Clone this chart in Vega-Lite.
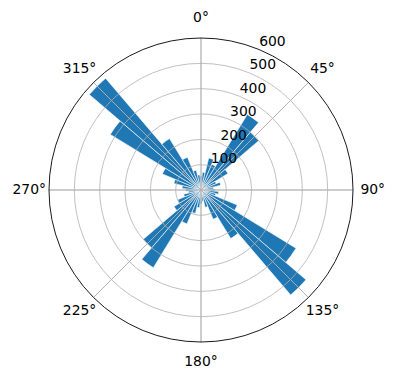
{
  "$schema": "https://vega.github.io/schema/vega-lite/v6.json",
  "width": 390,
  "height": 380,
  "autosize": {"type": "none"},
  "padding": {"left": 6, "top": 0, "right": 0, "bottom": 0},
  "background": "white",
  "config": {"view": {"stroke": null}},
  "datasets": {
    "bins": [
      {"start": -4.5, "end": 4.5, "count": 55},
      {"start": 4.5, "end": 13.5, "count": 70},
      {"start": 13.5, "end": 22.5, "count": 130},
      {"start": 22.5, "end": 31.5, "count": 110},
      {"start": 31.5, "end": 40.5, "count": 350},
      {"start": 40.5, "end": 49.5, "count": 300},
      {"start": 49.5, "end": 58.5, "count": 125},
      {"start": 58.5, "end": 67.5, "count": 65},
      {"start": 67.5, "end": 76.5, "count": 80},
      {"start": 76.5, "end": 85.5, "count": 50},
      {"start": 85.5, "end": 94.5, "count": 55},
      {"start": 94.5, "end": 103.5, "count": 70},
      {"start": 103.5, "end": 112.5, "count": 60},
      {"start": 112.5, "end": 121.5, "count": 155},
      {"start": 121.5, "end": 130.5, "count": 440},
      {"start": 130.5, "end": 139.5, "count": 545},
      {"start": 139.5, "end": 148.5, "count": 225},
      {"start": 148.5, "end": 157.5, "count": 125},
      {"start": 157.5, "end": 166.5, "count": 70},
      {"start": 166.5, "end": 175.5, "count": 45},
      {"start": 175.5, "end": 184.5, "count": 55},
      {"start": 184.5, "end": 193.5, "count": 70},
      {"start": 193.5, "end": 202.5, "count": 95},
      {"start": 202.5, "end": 211.5, "count": 145},
      {"start": 211.5, "end": 220.5, "count": 360},
      {"start": 220.5, "end": 229.5, "count": 300},
      {"start": 229.5, "end": 238.5, "count": 125},
      {"start": 238.5, "end": 247.5, "count": 100},
      {"start": 247.5, "end": 256.5, "count": 70},
      {"start": 256.5, "end": 265.5, "count": 50},
      {"start": 265.5, "end": 274.5, "count": 60},
      {"start": 274.5, "end": 283.5, "count": 75},
      {"start": 283.5, "end": 292.5, "count": 110},
      {"start": 292.5, "end": 301.5, "count": 165},
      {"start": 301.5, "end": 310.5, "count": 420},
      {"start": 310.5, "end": 319.5, "count": 580},
      {"start": 319.5, "end": 328.5, "count": 238},
      {"start": 328.5, "end": 337.5, "count": 140},
      {"start": 337.5, "end": 346.5, "count": 80},
      {"start": 346.5, "end": 355.5, "count": 60}
    ],
    "spokes": [
      {"a": 0, "label": "0°"},
      {"a": 45, "label": "45°"},
      {"a": 90, "label": "90°"},
      {"a": 135, "label": "135°"},
      {"a": 180, "label": "180°"},
      {"a": 225, "label": "225°"},
      {"a": 270, "label": "270°"},
      {"a": 315, "label": "315°"}
    ],
    "rings": [
      {"r": 100, "label": "100"},
      {"r": 200, "label": "200"},
      {"r": 300, "label": "300"},
      {"r": 400, "label": "400"},
      {"r": 500, "label": "500"},
      {"r": 600, "label": "600"}
    ]
  },
  "resolve": {"scale": {"theta": "shared", "radius": "shared"}},
  "layer": [
    {
      "data": {"name": "bins"},
      "mark": {"type": "arc", "fill": "#1f77b4", "stroke": "white", "strokeWidth": 0.6},
      "encoding": {
        "theta": {"field": "start", "type": "quantitative", "stack": null, "scale": {"type": "linear", "domain": [0, 360], "range": [0, 6.283185307179586], "zero": false, "nice": false}},
        "theta2": {"field": "end"},
        "radius": {"field": "count", "type": "quantitative", "scale": {"type": "linear", "domain": [0, 600], "range": [0, 152], "zero": true, "nice": false}},
        "radius2": {"datum": 0}
      }
    },
    {
      "data": {"name": "rings"},
      "transform": [{"filter": "datum.r < 600"}],
      "mark": {"type": "arc", "fill": "transparent", "stroke": "#b0b0b0", "strokeWidth": 0.8},
      "encoding": {
        "theta": {"datum": 0, "type": "quantitative", "stack": null},
        "theta2": {"datum": 360},
        "radius": {"field": "r", "type": "quantitative"},
        "radius2": {"datum": 0}
      }
    },
    {
      "data": {"name": "spokes"},
      "mark": {"type": "arc", "fill": "transparent", "stroke": "#b0b0b0", "strokeWidth": 0.8},
      "encoding": {
        "theta": {"field": "a", "type": "quantitative", "stack": null},
        "theta2": {"field": "a"},
        "radius": {"datum": 600, "type": "quantitative"},
        "radius2": {"datum": 0}
      }
    },
    {
      "data": {"name": "rings"},
      "transform": [{"filter": "datum.r == 600"}],
      "mark": {"type": "arc", "fill": "transparent", "stroke": "black", "strokeWidth": 0.9},
      "encoding": {
        "theta": {"datum": 0, "type": "quantitative", "stack": null},
        "theta2": {"datum": 360},
        "radius": {"field": "r", "type": "quantitative"},
        "radius2": {"datum": 0}
      }
    },
    {
      "data": {"name": "spokes"},
      "mark": {"type": "text", "font": "DejaVu Sans", "fontSize": 13.9, "color": "black", "align": "center", "baseline": "middle"},
      "encoding": {
        "theta": {"field": "a", "type": "quantitative", "stack": null},
        "radius": {"datum": 678, "type": "quantitative"},
        "text": {"field": "label", "type": "nominal"}
      }
    },
    {
      "data": {"name": "rings"},
      "mark": {"type": "text", "font": "DejaVu Sans", "fontSize": 13.9, "color": "black", "align": "left", "baseline": "alphabetic", "dy": -3.5},
      "encoding": {
        "theta": {"datum": 22.5, "type": "quantitative", "stack": null},
        "radius": {"field": "r", "type": "quantitative"},
        "text": {"field": "label", "type": "nominal"}
      }
    }
  ]
}
